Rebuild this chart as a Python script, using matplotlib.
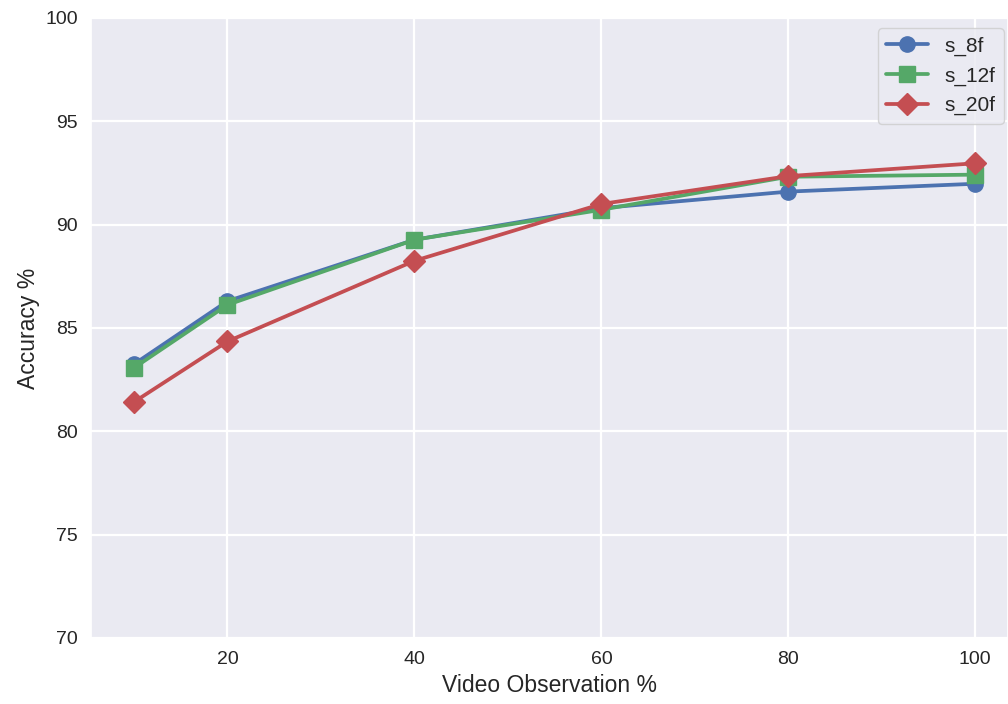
import matplotlib
matplotlib.use("Agg")
import matplotlib.pyplot as plt
import seaborn as sns

x = [10, 20, 40, 60, 80, 100]
s_8f = [83.25, 86.3, 89.27, 90.8, 91.6, 91.98]
s_12f = [83.07, 86.12, 89.27, 90.72, 92.32, 92.42]
s_20f = [81.42, 84.35, 88.25, 91.0, 92.35, 92.97]
labels = ["s_8f", "s_12f", "s_20f"]

sns.set_theme(style="darkgrid", palette="deep")
plt.rcParams['font.family'] = ['Liberation Sans', 'DejaVu Sans']

fig = plt.figure(figsize=(10.08, 7.04), dpi=100)
ax = fig.add_axes([91/1008, 1 - 638/704, (1008-91)/1008, (638-18)/704])
colors = sns.color_palette("deep")
ax.plot(x, s_8f, marker='o', color=colors[0], lw=2.7, ms=11, label=labels[0])
ax.plot(x, s_12f, marker='s', color=colors[2], lw=2.7, ms=11, label=labels[1])
ax.plot(x, s_20f, marker='D', color=colors[3], lw=2.7, ms=11, label=labels[2])
ax.set_xlim(5.4, 103.5)
ax.set_ylim(70, 100)
ax.set_xticks([20, 40, 60, 80, 100])
ax.grid(True, color='white', linewidth=1.6)
ax.tick_params(labelsize=14, colors='#262626')
ax.set_xlabel("Video Observation %", fontsize=16.5, color='#262626')
ax.set_ylabel("Accuracy %", fontsize=16.5, color='#262626')
ax.legend(loc='upper right', fontsize=15, bbox_to_anchor=(1 + 6/917, 1))
fig.savefig("out.png", dpi=100)
